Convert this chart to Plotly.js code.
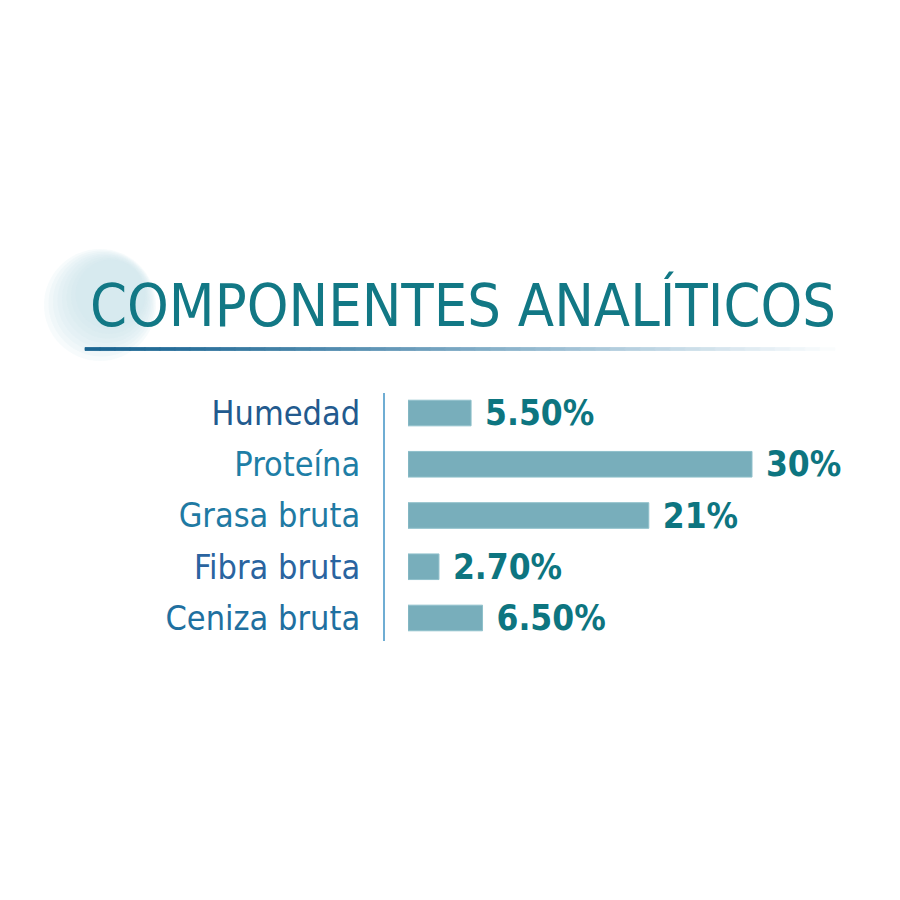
<!DOCTYPE html>
<html><head><meta charset="utf-8">
<script src="https://cdn.plot.ly/plotly-3.0.1.min.js"></script>
<style>html,body{margin:0;padding:0;background:#fff}#chart{width:900px;height:900px}</style>
</head><body><div id="chart"></div>
<script>
const categories = ["Humedad", "Proteína", "Grasa bruta", "Fibra bruta", "Ceniza bruta"];
const values = [5.5, 30, 21, 2.7, 6.5];
const valueLabels = ["5.50%", "30%", "21%", "2.70%", "6.50%"];
const titleText = "COMPONENTES ANALÍTICOS";
const labelColors = ["#225a8e", "#1e7ea6", "#1f7aa3", "#2a64a0", "#1f70a0"];

const FONT = "DejaVu Sans Condensed, DejaVu Sans, sans-serif";
const W = 900, H = 900;
const px = x => x / W, py = y => 1 - y / H;

const shapes = [];
// decorative circle (soft)
for (let k = 0; k < 8; k++) {
  const rr = 56 - k * 3;
  shapes.push({type: "circle", xref: "paper", yref: "paper", layer: "below",
    x0: px(100 + k * 1.5 - rr), x1: px(100 + k * 1.5 + rr), y0: py(305 - k * 1.5 + rr), y1: py(305 - k * 1.5 - rr),
    fillcolor: "rgba(200,226,233,0.15)", line: {width: 0}});
}
// gradient underline as segments
const x0 = 85, x1 = 835, nSeg = 50;
for (let i = 0; i < nSeg; i++) {
  const t = i / nSeg;
  const a = Math.max(0, 1 - Math.pow(t, 1.8));
  const r = Math.round(26 + (120 - 26) * t), g = Math.round(100 + (170 - 100) * t), b = Math.round(145 + (200 - 145) * t);
  const col = `rgb(${Math.round(255 - (255 - r) * a)},${Math.round(255 - (255 - g) * a)},${Math.round(255 - (255 - b) * a)})`;
  shapes.push({type: "rect", xref: "paper", yref: "paper",
    x0: px(x0 + (x1 - x0) * i / nSeg), x1: px(x0 + (x1 - x0) * (i + 1) / nSeg),
    y0: py(350.5), y1: py(347.5), fillcolor: col, line: {width: 0.8, color: col}});
}
// vertical separator
shapes.push({type: "line", xref: "paper", yref: "paper", x0: px(384), x1: px(384),
  y0: py(393), y1: py(641), line: {color: "#3f92c4", width: 1.5}});

const trace = {
  type: "bar", orientation: "h", y: categories, x: values,
  marker: {color: "#78aebb", line: {color: "#8fc0cb", width: 1}},
  width: 0.5,
  text: valueLabels, texttemplate: "\u00a0%{text}", textposition: "outside",
  constraintext: "none",
  textfont: {family: FONT, size: 35, color: "#0d7580", weight: "bold"},
  cliponaxis: false, hoverinfo: "none"
};

const layout = {
  width: W, height: H, margin: {l: 0, r: 0, t: 0, b: 0},
  paper_bgcolor: "#ffffff", plot_bgcolor: "rgba(0,0,0,0)",
  showlegend: false, bargap: 0.5,
  xaxis: {domain: [px(408), px(860)], range: [0, 30 * 452 / 344], visible: false, fixedrange: true},
  yaxis: {domain: [py(643.6), py(387.4)], autorange: "reversed", type: "category",
    tickvals: categories,
    ticktext: categories.map((c, i) => `<span style="color:${labelColors[i]}">${c}</span>`),
    showline: false, showgrid: false, zeroline: false,
    ticks: "outside", ticklen: 40, tickcolor: "rgba(0,0,0,0)",
    tickfont: {family: FONT, size: 34, color: "#1d6f9c"}},
  shapes: shapes,
  annotations: [{text: titleText, xref: "paper", yref: "paper", x: px(88), y: py(305),
    xanchor: "left", yanchor: "middle", showarrow: false,
    font: {family: FONT, size: 59, color: "#127885", weight: "normal"}}]
};

Plotly.newPlot("chart", [trace], layout, {staticPlot: true, displayModeBar: false});
</script></body></html>
